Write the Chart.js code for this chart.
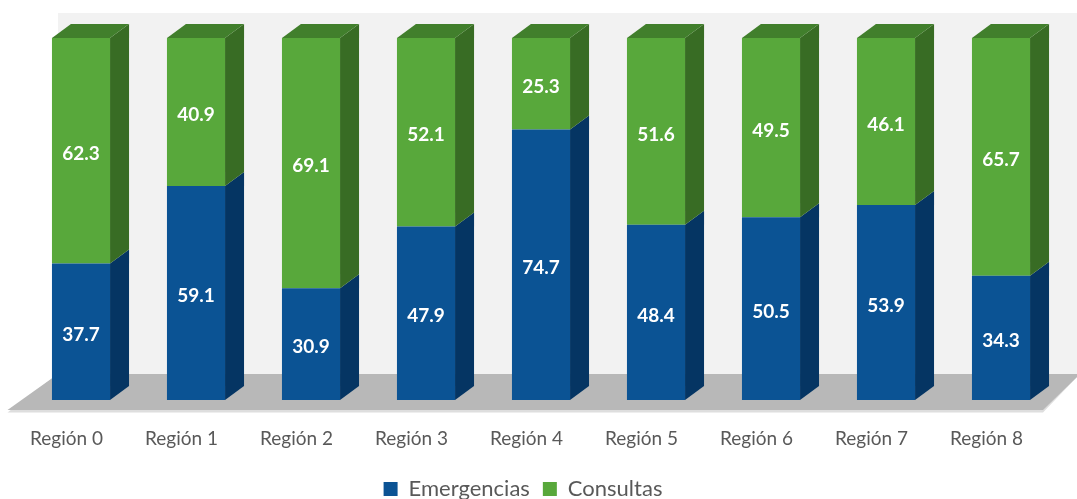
<!DOCTYPE html>
<html><head><meta charset="utf-8">
<style>html,body{margin:0;padding:0;background:#fff}#w{position:relative;width:1077px;height:499px}</style>
<script src="https://cdn.jsdelivr.net/npm/chart.js@4"></script>
</head><body><div id="w"><canvas id="c" width="1077" height="499"></canvas></div>
<script>
const categories = ["Región 0","Región 1","Región 2","Región 3","Región 4","Región 5","Región 6","Región 7","Región 8"];
const emergencias = [37.7,59.1,30.9,47.9,74.7,48.4,50.5,53.9,34.3];
const consultas = [62.3,40.9,69.1,52.1,25.3,51.6,49.5,46.1,65.7];
const DX = 19, DY = 14;
const FONT = "Lato, Carlito, Calibri, sans-serif";
const sideColors = ["#053563","#386c24"];
const topColor = "#417f2c";

const scene = {
  id:"scene",
  beforeDatasetsDraw(chart){
    const {ctx, chartArea:a} = chart;
    const W = chart.width;
    ctx.save();
    // back wall
    ctx.fillStyle = "#f2f2f2";
    ctx.fillRect(a.left+34.5, a.top-25, W-(a.left+34.5), a.bottom-a.top+1);
    // floor edge + floor
    ctx.fillStyle = "#dedede";
    ctx.beginPath();
    ctx.moveTo(a.left-16, a.bottom+12.5);
    ctx.lineTo(a.right-15.5, a.bottom+12.5);
    ctx.lineTo(W+3, a.bottom-26);
    ctx.lineTo(a.left+34.5, a.bottom-26);
    ctx.closePath(); ctx.fill();
    ctx.fillStyle = "#b8b8b8";
    ctx.beginPath();
    ctx.moveTo(a.left-16, a.bottom+10);
    ctx.lineTo(a.right-15.5, a.bottom+10);
    ctx.lineTo(W+3, a.bottom-26);
    ctx.lineTo(a.left+34.5, a.bottom-26);
    ctx.closePath(); ctx.fill();
    // 3D faces
    chart.data.datasets.forEach((ds,i)=>{
      chart.getDatasetMeta(i).data.forEach(b=>{
        const r = b.x + b.width/2, l = b.x - b.width/2;
        ctx.fillStyle = sideColors[i];
        ctx.beginPath();
        ctx.moveTo(r,b.y); ctx.lineTo(r+DX,b.y-DY);
        ctx.lineTo(r+DX,b.base-DY); ctx.lineTo(r,b.base);
        ctx.closePath(); ctx.fill();
        if(i===chart.data.datasets.length-1){
          ctx.fillStyle = topColor;
          ctx.beginPath();
          ctx.moveTo(l,b.y); ctx.lineTo(l+DX,b.y-DY);
          ctx.lineTo(r+DX,b.y-DY); ctx.lineTo(r,b.y);
          ctx.closePath(); ctx.fill();
        }
      });
    });
    ctx.restore();
  },
  afterDatasetsDraw(chart){
    const {ctx} = chart;
    ctx.save();
    ctx.fillStyle = "#fff";
    ctx.font = "bold 19px "+FONT;
    ctx.textAlign = "center"; ctx.textBaseline = "middle";
    chart.data.datasets.forEach((ds,i)=>{
      chart.getDatasetMeta(i).data.forEach((b,j)=>{
        ctx.fillText(ds.data[j].toFixed(1), b.x, (b.y+b.base)/2+3);
      });
    });
    ctx.restore();
  },
  afterLayout(chart){
    const l = chart.legend;
    l.left -= 18; l.right -= 18;
    l.top += 11; l.bottom += 11;
  }
};

new Chart(document.getElementById("c"),{
  type:"bar",
  data:{labels:categories,datasets:[
    {label:"Emergencias",data:emergencias,backgroundColor:"#0b5394",borderWidth:0},
    {label:"Consultas",data:consultas,backgroundColor:"#58a83b",borderWidth:0}
  ]},
  plugins:[scene],
  options:{
    responsive:false,animation:false,
    layout:{padding:{left:23.5,right:18.5,top:38,bottom:0}},
    datasets:{bar:{barPercentage:0.505,categoryPercentage:1}},
    plugins:{
      legend:{position:"bottom",labels:{boxWidth:14,boxHeight:14,padding:13,color:"#595959",font:{family:FONT,size:22}}},
      tooltip:{enabled:false}
    },
    scales:{
      x:{stacked:true,grid:{display:false},border:{display:false},
        afterFit(s){s.height=54;},
        ticks:{color:"#595959",font:{family:FONT,size:19},labelOffset:-14.5,padding:19,maxRotation:0}},
      y:{stacked:true,display:false,min:0,max:100}
    }
  }
});
</script></body></html>
